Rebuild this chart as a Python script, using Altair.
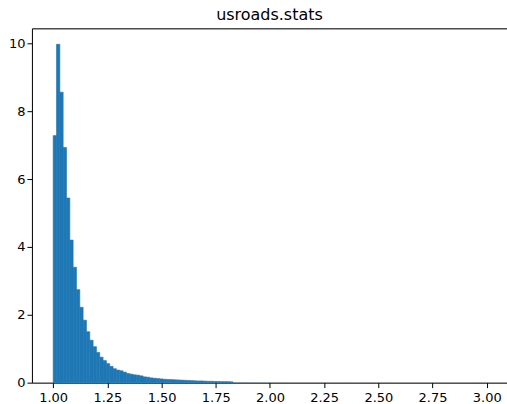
import altair as alt
import pandas as pd

# Histogram (density) of usroads.stats
bin_start = 1.0
bin_width = 0.01535
density = [
    7.28, 9.97, 8.56, 6.93, 5.44, 4.20, 3.40, 2.74, 2.22, 1.84,
    1.50, 1.25, 1.06, 0.89, 0.75, 0.65, 0.56, 0.48, 0.41, 0.37,
    0.35, 0.31, 0.27, 0.25, 0.23, 0.22, 0.20, 0.17, 0.16, 0.14,
    0.13, 0.12, 0.11, 0.10, 0.095, 0.09, 0.085, 0.08, 0.075, 0.07,
    0.065, 0.06, 0.055, 0.05, 0.05, 0.045, 0.04, 0.04, 0.035, 0.035,
    0.03, 0.03, 0.03, 0.025, 0.006, 0.005, 0.005, 0.004, 0.004, 0.004,
    0.003, 0.003, 0.003, 0.003, 0.002, 0.002, 0.002, 0.002, 0.002, 0.002,
    0.002, 0.001, 0.001, 0.001, 0.001, 0.001, 0.001, 0.001, 0.001, 0.001,
    0.001, 0.001, 0.001, 0.0, 0.001, 0.0, 0.001, 0.0, 0.0, 0.001,
    0.0, 0.0, 0.001, 0.0, 0.0, 0.0, 0.001, 0.0, 0.0, 0.0,
    0.0, 0.001, 0.0, 0.0, 0.0, 0.0, 0.0, 0.0, 0.0, 0.0,
    0.0, 0.0, 0.0, 0.0, 0.0, 0.0, 0.0, 0.0, 0.0, 0.0,
    0.0, 0.0, 0.0, 0.0, 0.0, 0.0, 0.0, 0.001,
]
x_ticks = [1.0, 1.25, 1.5, 1.75, 2.0, 2.25, 2.5, 2.75, 3.0]
y_ticks = [0, 2, 4, 6, 8, 10]
title_text = "usroads.stats"

df = pd.DataFrame({
    "lo": [bin_start + i * bin_width for i in range(len(density))],
    "hi": [bin_start + (i + 1) * bin_width for i in range(len(density))],
    "density": density,
})

FONT = "DejaVu Sans"
x_scale = alt.Scale(domain=[0.902, 3.0935], nice=False, zero=False)
y_scale = alt.Scale(domain=[0, 10.44], nice=False)

bars = (
    alt.Chart(df)
    .mark_rect(color="#1f77b4", stroke="#1f77b4")
    .encode(
        x=alt.X(
            "lo:Q",
            scale=x_scale,
            axis=alt.Axis(
                values=x_ticks, format=".2f", title=None, grid=False,
                labelFont=FONT, labelFontSize=13, labelColor="#000000",
                tickColor="#000000", tickSize=5, tickWidth=1,
                domainColor="#000000", domainWidth=1, labelPadding=4,
                labelFlush=False, labelOverlap=False,
            ),
        ),
        x2="hi:Q",
        y=alt.Y(
            "density:Q",
            scale=y_scale,
            axis=alt.Axis(
                values=y_ticks, title=None, grid=False,
                labelFont=FONT, labelFontSize=13, labelColor="#000000",
                tickColor="#000000", tickSize=5, tickWidth=1,
                domainColor="#000000", domainWidth=1, labelPadding=2,
                labelFlush=False, labelOverlap=False,
            ),
        ),
        y2=alt.datum(0),
        strokeWidth=alt.condition(
            alt.datum.density > 0.01, alt.value(0.6), alt.value(0)
        ),
    )
)

top_frame = (
    alt.Chart(df)
    .mark_point(opacity=0)
    .encode(
        x=alt.X(
            "lo:Q",
            scale=x_scale,
            axis=alt.Axis(
                orient="top", labels=False, ticks=False, title=None,
                grid=False, domainColor="#000000", domainWidth=1,
            ),
        ),
        y=alt.Y("density:Q", scale=y_scale),
    )
)

chart = (
    alt.layer(bars, top_frame)
    .resolve_axis(x="independent")
    .properties(
        width=476,
        height=355,
        title=alt.TitleParams(
            title_text, font=FONT, fontSize=16, fontWeight="normal",
            color="#000000", anchor="middle", offset=5,
        ),
        padding={"left": 32, "top": 28, "right": 0, "bottom": 21},
        autosize=alt.AutoSizeParams(type="none"),
    )
    .configure_view(stroke=None)
    .configure(background="white")
)

chart.save("out.html", embed_options={"renderer": "svg", "actions": False})
